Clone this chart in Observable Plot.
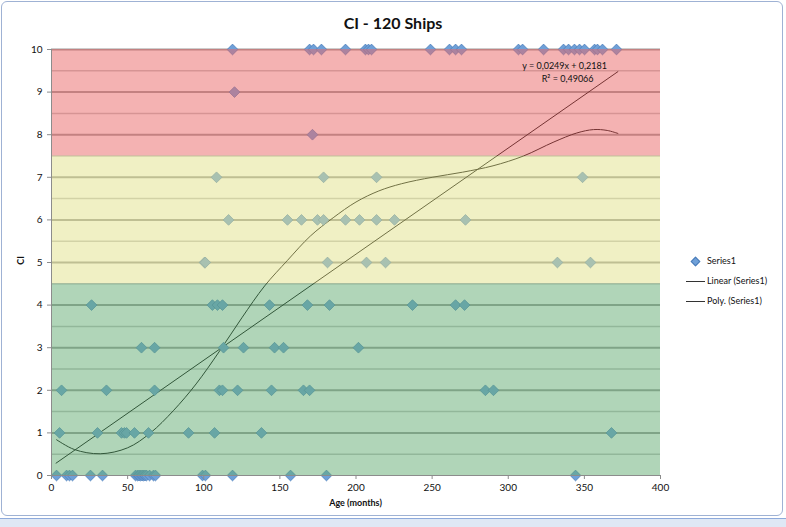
<!DOCTYPE html>
<html>
<head>
<meta charset="utf-8">
<script src="https://cdn.jsdelivr.net/npm/d3@7"></script>
<script src="https://cdn.jsdelivr.net/npm/@observablehq/plot@0.6"></script>
<style>
  html, body { margin: 0; padding: 0; background: #ffffff; }
  #wrap { position: relative; width: 786px; height: 527px; overflow: hidden; font-family: Lato, "Open Sans", sans-serif; }
  #frame { position: absolute; left: 1px; top: 1px; width: 782px; height: 515px; border: 1px solid #9fb2d4; border-radius: 6px; box-sizing: border-box; }
  #sheet { position: absolute; left: 0; top: 518px; width: 786px; height: 9px; background: #dfe8f5; border-top: 1px solid #8eaadb; }
  #title { position: absolute; left: 0; width: 786px; top: 13px; text-align: center; font-weight: bold; font-size: 16px; color: #111; }
  #ylab { position: absolute; left: 16px; top: 255px; font-weight: bold; font-size: 9px; transform: rotate(-90deg); color: #111; }
  #xlab { position: absolute; left: 0; width: 711px; text-align: center; top: 497px; font-weight: bold; font-size: 9px; color: #111; }
  .leg { position: absolute; left: 707px; font-size: 9px; color: #111; }
  .legline { position: absolute; left: 686px; width: 19px; height: 0; border-top: 1px solid #333; }
  .legdia { position: absolute; left: 692px; width: 5px; height: 5px; background: #6fa0d8; border: 0.5px solid #4a7cb8; transform: rotate(45deg); }
  #chart { position: absolute; left: 0; top: 0; }
</style>
</head>
<body>
<div id="wrap">
  <div id="chart"></div>
  <div id="frame"></div>
  <div id="sheet"></div>
  <div id="title">CI - 120 Ships</div>
  <div id="ylab">CI</div>
  <div id="xlab">Age (months)</div>
  <div class="legdia" style="top:258px"></div>
  <div class="leg" style="top:255px">Series1</div>
  <div class="legline" style="top:281px"></div>
  <div class="leg" style="top:275px">Linear (Series1)</div>
  <div class="legline" style="top:301px"></div>
  <div class="leg" style="top:295px">Poly. (Series1)</div>
</div>
<script>
// Scatter data: age (months) per CI value
const ci0  = [3.3, 9.9, 11.8, 13.8, 25.6, 33.5, 55.2, 56.5, 57.5, 58.5, 59.5, 60.4, 61.4, 62.4, 64.4, 67, 68.3, 99.2, 101.1, 118.9, 157, 180.6, 344.2];
const ci1  = [5.3, 30.2, 46, 47.9, 49.3, 54.5, 63.7, 90, 107.1, 137.9, 367.8];
const ci2  = [6.6, 36.1, 67.7, 110.3, 112.3, 122.2, 144.5, 165.5, 169.5, 285, 290.3];
const ci3  = [59.1, 67.7, 113, 126.1, 146.5, 152.4, 201.6];
const ci4  = [26.3, 105.7, 109, 112.3, 143.2, 168.1, 182.6, 237.1, 265.4, 271.3];
const ci5  = [100.5, 101, 181.3, 206.9, 219.4, 332.3, 354];
const ci6  = [116.3, 155, 164.2, 174.7, 178.7, 193.1, 202.3, 213.5, 225.3, 271.9];
const ci7  = [108.4, 178.7, 213.5, 348.8];
const ci8  = [171.4];
const ci9  = [120.2];
const ci10 = [118.9, 169.5, 172.1, 177.3, 193.1, 206.2, 208.2, 210.2, 248.9, 261.4, 265.4, 269.3, 306.7, 309.4, 323.2, 336.3, 339.6, 343.5, 346.8, 350.1, 356.7, 358.6, 361.9, 371.1];
const ciRows = [ci0, ci1, ci2, ci3, ci4, ci5, ci6, ci7, ci8, ci9, ci10];

// Trend lines
const linAge = [3, 372];
const linCI  = [0.29, 9.48];
const polyAge = [3.3, 15, 32, 50, 65, 80, 95, 110, 125, 140, 155, 170, 185, 200, 215, 230, 250, 270, 290, 310, 330, 345, 356, 365, 372];
const polyCI  = [0.84, 0.61, 0.51, 0.65, 1.0, 1.52, 2.15, 2.9, 3.7, 4.45, 5.05, 5.62, 6.05, 6.42, 6.68, 6.85, 7.0, 7.12, 7.27, 7.5, 7.83, 8.04, 8.12, 8.1, 8.03];

// Bands
const bandLow  = [0, 4.5, 7.5];
const bandHigh = [4.5, 7.5, 10];
const bandColor = ["#61ab71", "#e2e28a", "#e96565"];

// Ticks
const xTicks = [0, 50, 100, 150, 200, 250, 300, 350, 400];
const yTicks = [0, 1, 2, 3, 4, 5, 6, 7, 8, 9, 10];
const minorY = [0.5, 1.5, 2.5, 3.5, 4.5, 5.5, 6.5, 7.5, 8.5, 9.5];

// Equation annotation
const eqText = ["y = 0,0249x + 0,2181", "R² = 0,49066"];
const eqAge = [337, 339];
const eqCI = [9.6, 9.3];

const points = ciRows.flatMap((row, ci) => row.map(age => ({age, ci})));
const lin = linAge.map((a, i) => ({age: a, ci: linCI[i]}));
const poly = polyAge.map((a, i) => ({age: a, ci: polyCI[i]}));
const bands = bandLow.map((lo, i) => ({lo, hi: bandHigh[i], color: bandColor[i]}));
const eq = eqText.map((t, i) => ({t, age: eqAge[i], ci: eqCI[i]}));

const chart = Plot.plot({
  width: 786,
  height: 527,
  marginLeft: 51,
  marginRight: 126,
  marginTop: 49,
  marginBottom: 52,
  style: {fontFamily: "Lato, 'Open Sans', sans-serif", fontSize: "10px", background: "transparent", color: "#111"},
  x: {domain: [0, 400]},
  y: {domain: [0, 10]},
  marks: [
    Plot.ruleY(minorY, {stroke: "#c2c2c2", strokeWidth: 1.5}),
    Plot.ruleY(yTicks.filter(d => d > 0), {stroke: "#9c9c9c", strokeWidth: 2}),
    Plot.line(lin, {x: "age", y: "ci", stroke: "#000", strokeWidth: 1}),
    Plot.line(poly, {x: "age", y: "ci", stroke: "#000", strokeWidth: 1, curve: "catmull-rom"}),
    Plot.dot(points, {x: "age", y: "ci", symbol: "square", rotate: 45, r: 4.3, fill: "#6fa0d8", stroke: "#4a7cb8", strokeWidth: 0.7}),
    Plot.rect(bands, {x1: 0, x2: 400, y1: "lo", y2: "hi", fill: d => d.color, fillOpacity: 0.5}),
    Plot.ruleX([0], {stroke: "#8c8c8c", strokeWidth: 1}),
    Plot.ruleY([0], {stroke: "#8c8c8c", strokeWidth: 1}),
    Plot.axisX({ticks: xTicks, tickSize: 4, tickPadding: 4, stroke: "#8c8c8c", fill: "#111", label: null, fontSize: 10}),
    Plot.axisY({ticks: yTicks, tickSize: 4, tickPadding: 5, stroke: "#8c8c8c", fill: "#111", label: null, fontSize: 10}),
    Plot.text(eq, {x: "age", y: "ci", text: "t", fontSize: 9, fill: "#111"})
  ]
});
document.getElementById("chart").appendChild(chart);
</script>
</body>
</html>
